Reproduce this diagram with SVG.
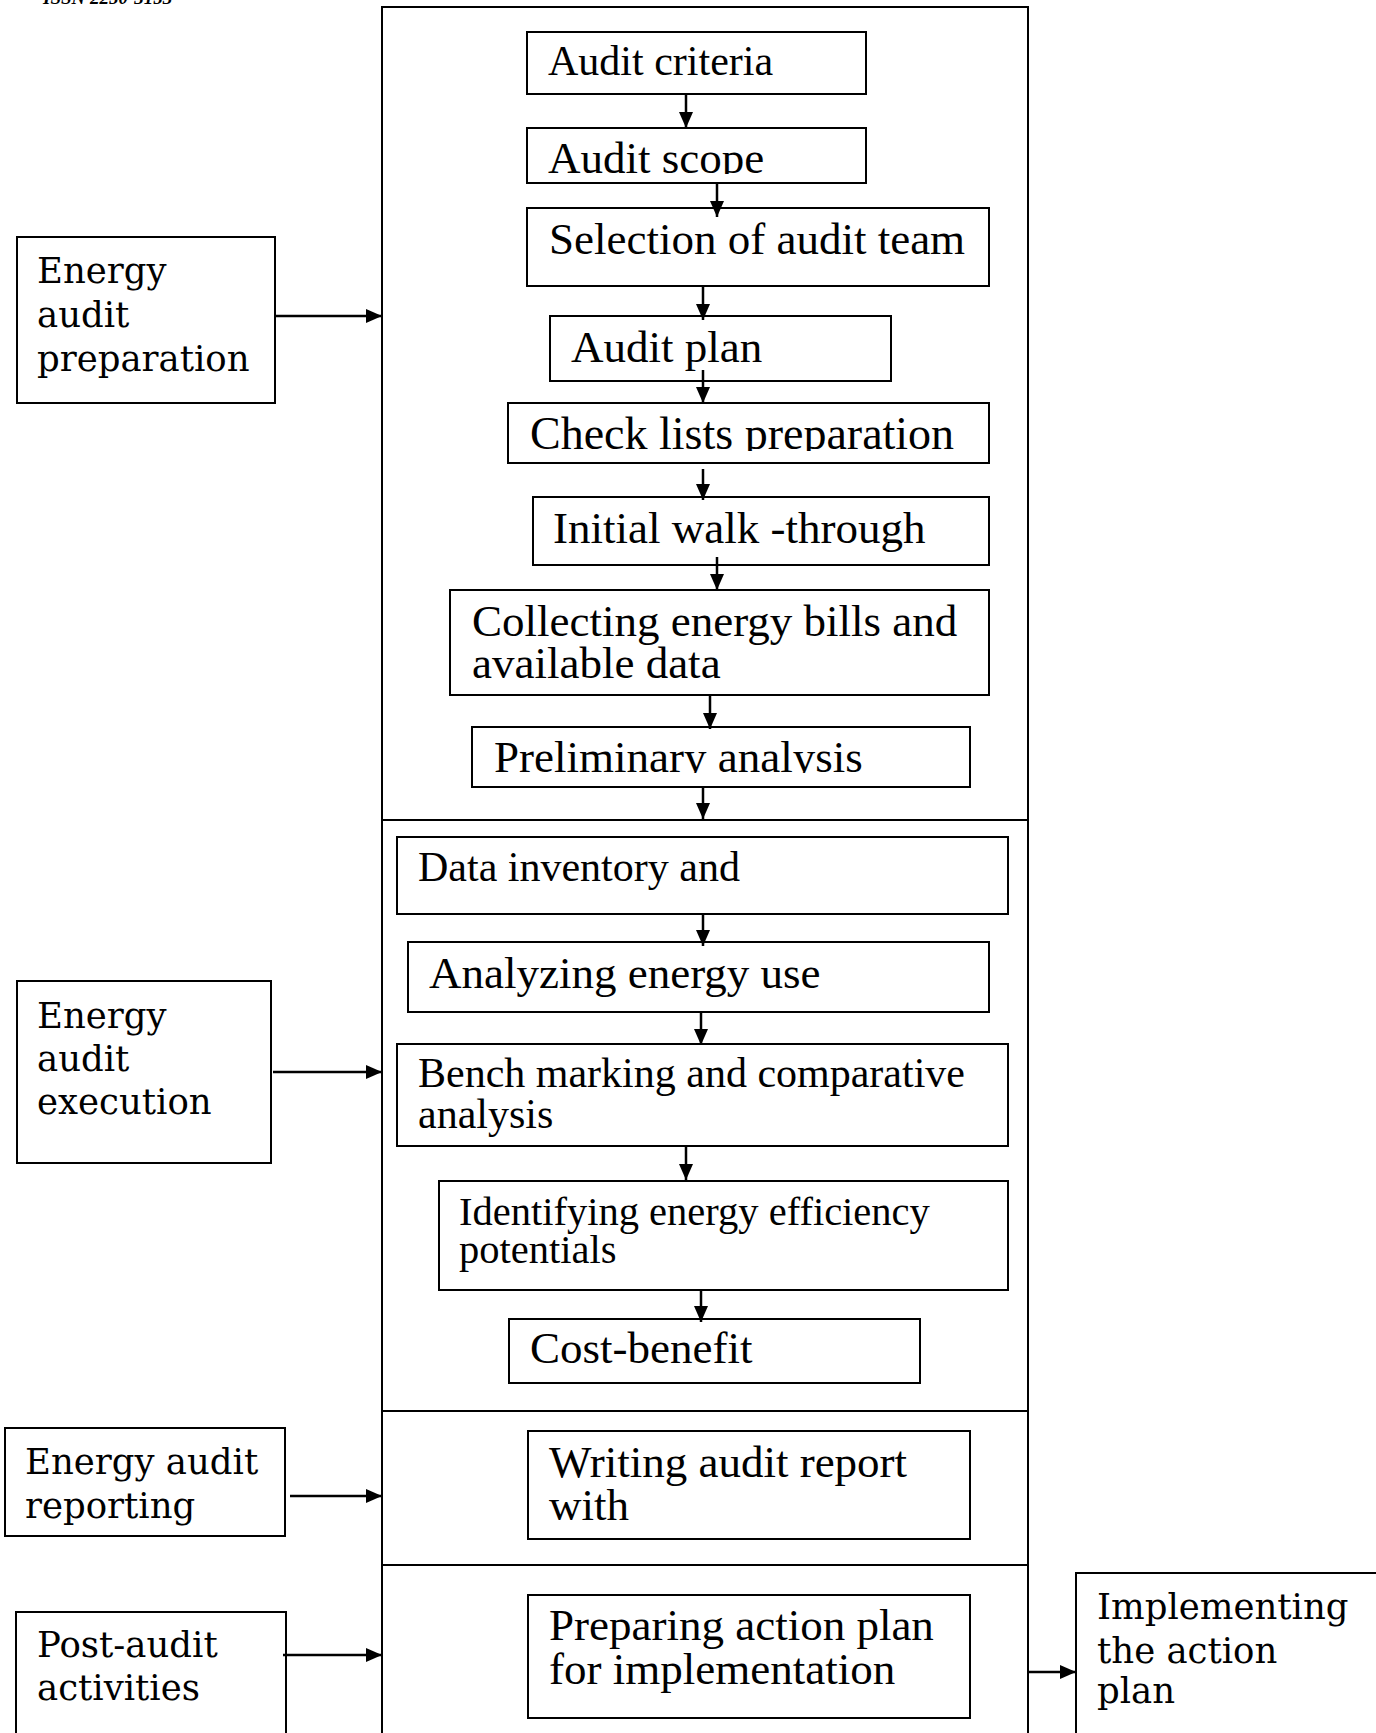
<svg xmlns="http://www.w3.org/2000/svg" width="1376" height="1733" viewBox="0 0 1376 1733">
<style>
.box{fill:#fff;stroke:#000;stroke-width:2}
.frame{fill:none;stroke:#000;stroke-width:2}
.t{font-family:"Liberation Serif","Times New Roman",serif;font-size:45px;fill:#000}
.ts{font-family:"Liberation Serif","Times New Roman",serif;font-size:42px;fill:#000}
.tl{font-family:"DejaVu Serif",serif;font-size:35.5px;fill:#000}
.c{stroke:#000;stroke-width:2.5;fill:none;marker-end:url(#ah)}
.hdr{font-family:"Liberation Serif","Times New Roman",serif;font-size:19px;font-style:italic;font-weight:bold;fill:#000}
</style>
<defs>
<marker id="ah" markerUnits="userSpaceOnUse" markerWidth="18" markerHeight="16" refX="16" refY="8" orient="auto">
<path d="M0,1 L16,8 L0,15 Z" fill="#000"/>
</marker>
<clipPath id="clipScope"><rect x="527" y="128" width="339" height="46"/></clipPath>
<clipPath id="clipCheck"><rect x="508" y="403" width="481" height="48"/></clipPath>
<clipPath id="clipPrelim"><rect x="472" y="727" width="498" height="46"/></clipPath>
</defs>
<rect width="1376" height="1733" fill="#fff"/>
<text class="hdr" x="43" y="4">ISSN 2250-3153</text>

<g id="frame">
<rect class="frame" x="382" y="7" width="646" height="1740"/>
<line class="frame" x1="382" y1="820" x2="1028" y2="820"/>
<line class="frame" x1="382" y1="1411" x2="1028" y2="1411"/>
<line class="frame" x1="382" y1="1565" x2="1028" y2="1565"/>
</g>

<g id="n-criteria"><rect class="box" x="527" y="32" width="339" height="62"/><text class="t" x="548" y="75" style="font-size:42px">Audit criteria</text></g>
<g id="n-scope"><rect class="box" x="527" y="128" width="339" height="55"/><text class="t" x="548" y="173" clip-path="url(#clipScope)">Audit scope</text></g>
<g id="n-team"><rect class="box" x="527" y="208" width="462" height="78"/><text class="t" x="549" y="254">Selection of audit team</text></g>
<g id="n-plan"><rect class="box" x="550" y="316" width="341" height="65"/><text class="t" x="571" y="362">Audit plan</text></g>
<g id="n-check"><rect class="box" x="508" y="403" width="481" height="60"/><text class="t" x="530" y="449" style="font-size:46px" clip-path="url(#clipCheck)">Check lists preparation</text></g>
<g id="n-walk"><rect class="box" x="533" y="497" width="456" height="68"/><text class="t" x="553" y="543">Initial walk -through</text></g>
<g id="n-collect"><rect class="box" x="450" y="590" width="539" height="105"/><text class="t" x="472" y="636">Collecting energy bills and<tspan x="472" dy="42">available data</tspan></text></g>
<g id="n-prelim"><rect class="box" x="472" y="727" width="498" height="60"/><text class="t" x="494" y="772" clip-path="url(#clipPrelim)">Preliminary analysis</text></g>
<g id="n-inventory"><rect class="box" x="397" y="837" width="611" height="77"/><text class="ts" x="418" y="881">Data inventory and</text></g>
<g id="n-analyzing"><rect class="box" x="408" y="942" width="581" height="70"/><text class="t" x="429" y="988">Analyzing energy use</text></g>
<g id="n-bench"><rect class="box" x="397" y="1044" width="611" height="102"/><text class="ts" x="418" y="1087">Bench marking and comparative<tspan x="418" dy="41">analysis</tspan></text></g>
<g id="n-identify"><rect class="box" x="439" y="1181" width="569" height="109"/><text class="ts" x="459" y="1225" style="font-size:40.5px">Identifying energy efficiency<tspan x="459" dy="38">potentials</tspan></text></g>
<g id="n-cost"><rect class="box" x="509" y="1319" width="411" height="64"/><text class="t" x="530" y="1363">Cost-benefit</text></g>
<g id="n-report"><rect class="box" x="528" y="1431" width="442" height="108"/><text class="t" x="549" y="1477">Writing audit report<tspan x="549" dy="43">with</tspan></text></g>
<g id="n-action"><rect class="box" x="528" y="1595" width="442" height="123"/><text class="t" x="549" y="1640">Preparing action plan<tspan x="549" dy="44">for implementation</tspan></text></g>

<g id="n-prep"><rect class="box" x="17" y="237" width="258" height="166"/><text class="tl" x="37" y="283">Energy<tspan x="37" dy="44">audit</tspan><tspan x="37" dy="44">preparation</tspan></text></g>
<g id="n-exec"><rect class="box" x="17" y="981" width="254" height="182"/><text class="tl" x="37" y="1028">Energy<tspan x="37" dy="43">audit</tspan><tspan x="37" dy="43">execution</tspan></text></g>
<g id="n-reporting"><rect class="box" x="5" y="1428" width="280" height="108"/><text class="tl" x="25" y="1474">Energy audit<tspan x="25" dy="44">reporting</tspan></text></g>
<g id="n-post"><rect class="box" x="16" y="1612" width="270" height="140"/><text class="tl" x="37" y="1657">Post-audit<tspan x="37" dy="43">activities</tspan></text></g>
<g id="n-impl"><rect class="box" x="1076" y="1573" width="320" height="180"/><text class="tl" x="1097" y="1619">Implementing<tspan x="1097" dy="44">the action</tspan><tspan x="1097" dy="40">plan</tspan></text></g>

<g id="connectors">
<line class="c" x1="686" y1="94" x2="686" y2="128"/>
<line class="c" x1="717" y1="183" x2="717" y2="217"/>
<line class="c" x1="703" y1="286" x2="703" y2="320"/>
<line class="c" x1="703" y1="370" x2="703" y2="403"/>
<line class="c" x1="703" y1="469" x2="703" y2="500"/>
<line class="c" x1="717" y1="557" x2="717" y2="590"/>
<line class="c" x1="710" y1="695" x2="710" y2="729"/>
<line class="c" x1="703" y1="787" x2="703" y2="819"/>
<line class="c" x1="703" y1="914" x2="703" y2="946"/>
<line class="c" x1="701" y1="1012" x2="701" y2="1045"/>
<line class="c" x1="686" y1="1146" x2="686" y2="1180"/>
<line class="c" x1="701" y1="1290" x2="701" y2="1322"/>
<line class="c" x1="275" y1="316" x2="382" y2="316"/>
<line class="c" x1="273" y1="1072" x2="382" y2="1072"/>
<line class="c" x1="290" y1="1496" x2="382" y2="1496"/>
<line class="c" x1="283" y1="1655" x2="382" y2="1655"/>
<line class="c" x1="1028" y1="1672" x2="1076" y2="1672"/>
</g>
</svg>
